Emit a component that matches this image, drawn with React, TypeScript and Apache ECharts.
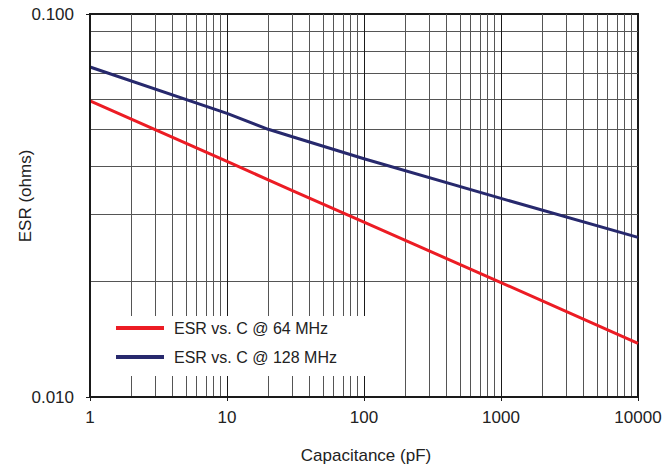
import React, { useEffect, useRef } from "react";
import * as echarts from "echarts";

// Capacitance (pF) sample points and ESR (ohms)
const capacitancePF = [1, 10, 20, 30, 100, 1000, 10000];
const esr64MHz = [0.0593, 0.0412, 0.0369, 0.0346, 0.0286, 0.0199, 0.0138];
const esr128MHz = [0.0727, 0.055, 0.05, 0.0478, 0.0419, 0.033, 0.0261];

const seriesNames = ["ESR vs. C @ 64 MHz", "ESR vs. C @ 128 MHz"];

// Gridline positions (log-scale minor/major ticks)
const xMinorGrid = [
  2, 3, 4, 5, 6, 7, 8, 9,
  20, 30, 40, 50, 60, 70, 80, 90,
  200, 300, 400, 500, 600, 700, 800, 900,
  2000, 3000, 4000, 5000, 6000, 7000, 8000, 9000,
];
const xMajorGrid = [10, 100, 1000];
const yMinorGrid = [0.02, 0.03, 0.04, 0.05, 0.06, 0.07, 0.08, 0.09];

const FONT = "'Liberation Sans', Arial, Helvetica, sans-serif";

export default function App() {
  const ref = useRef<HTMLDivElement>(null);

  useEffect(() => {
    document.body.style.margin = "0";
    if (!ref.current) return;
    const chart = echarts.init(ref.current, null, { renderer: "svg" });

    const gridLine = (color: string) => ({
      silent: true,
      z: 1,
      symbol: ["none", "none"],
      label: { show: false },
      emphasis: { disabled: true },
      lineStyle: { color, width: 1, type: "solid" },
    });

    chart.setOption({
      animation: false,
      backgroundColor: "#fff",
      textStyle: { fontFamily: FONT },
      grid: {
        left: 90,
        right: 33,
        top: 14,
        bottom: 71,
        show: true,
        borderColor: "#1a1a1a",
        borderWidth: 2,
        backgroundColor: "transparent",
      },
      xAxis: {
        type: "log",
        logBase: 10,
        min: 1,
        max: 10000,
        z: 20,
        axisLine: { show: true, lineStyle: { color: "#1a1a1a", width: 2 } },
        axisTick: { show: true, length: 4, lineStyle: { color: "#1a1a1a" } },
        splitLine: { show: false },
        axisLabel: {
          fontSize: 17,
          color: "#222",
          margin: 12,
          fontFamily: FONT,
          formatter: (v: number) => String(Math.round(v)),
        },
      },
      yAxis: {
        type: "log",
        logBase: 10,
        min: 0.01,
        max: 0.1,
        z: 20,
        axisLine: { show: true, lineStyle: { color: "#1a1a1a", width: 2 } },
        axisTick: { show: true, length: 4, lineStyle: { color: "#1a1a1a" } },
        splitLine: { show: false },
        axisLabel: {
          fontSize: 17,
          color: "#222",
          margin: 16,
          fontFamily: FONT,
          formatter: (v: number) => v.toFixed(3),
        },
      },
      legend: {
        data: seriesNames,
        orient: "vertical",
        left: 92,
        top: 316,
        z: 10,
        backgroundColor: "#fff",
        padding: [4, 38, 11, 24],
        itemWidth: 48,
        itemHeight: 4,
        icon: "rect",
        itemGap: 13,
        selectedMode: false,
        textStyle: {
          fontSize: 16,
          color: "#222",
          lineHeight: 16,
          fontFamily: FONT,
          padding: [0, 0, 0, 5],
        },
      },
      graphic: [
        {
          type: "text",
          x: 366,
          y: 455,
          style: {
            text: "Capacitance (pF)",
            font: `17px ${FONT}`,
            fill: "#222",
            align: "center",
            verticalAlign: "middle",
          },
        },
        {
          type: "text",
          x: 25,
          y: 196,
          rotation: Math.PI / 2,
          style: {
            text: "ESR (ohms)",
            font: `17px ${FONT}`,
            fill: "#222",
            align: "center",
            verticalAlign: "middle",
          },
        },
      ],
      series: [
        {
          name: "gridMinor",
          type: "line",
          data: [],
          z: 1,
          markLine: {
            ...gridLine("#555"),
            data: [
              ...xMinorGrid.map((v) => ({ xAxis: v })),
              ...yMinorGrid.map((v) => ({ yAxis: v })),
            ],
          },
        },
        {
          name: "gridMajor",
          type: "line",
          data: [],
          z: 1,
          markLine: {
            ...gridLine("#1a1a1a"),
            data: xMajorGrid.map((v) => ({ xAxis: v })),
          },
        },
        {
          name: seriesNames[0],
          type: "line",
          z: 3,
          symbol: "none",
          color: "#ec1c24",
          lineStyle: { color: "#ec1c24", width: 3 },
          data: capacitancePF.map((c, i) => [c, esr64MHz[i]]),
        },
        {
          name: seriesNames[1],
          type: "line",
          z: 3,
          symbol: "none",
          color: "#27296d",
          lineStyle: { color: "#27296d", width: 3 },
          data: capacitancePF.map((c, i) => [c, esr128MHz[i]]),
        },
      ],
    });

    return () => chart.dispose();
  }, []);

  return <div ref={ref} style={{ width: 671, height: 468 }} />;
}
